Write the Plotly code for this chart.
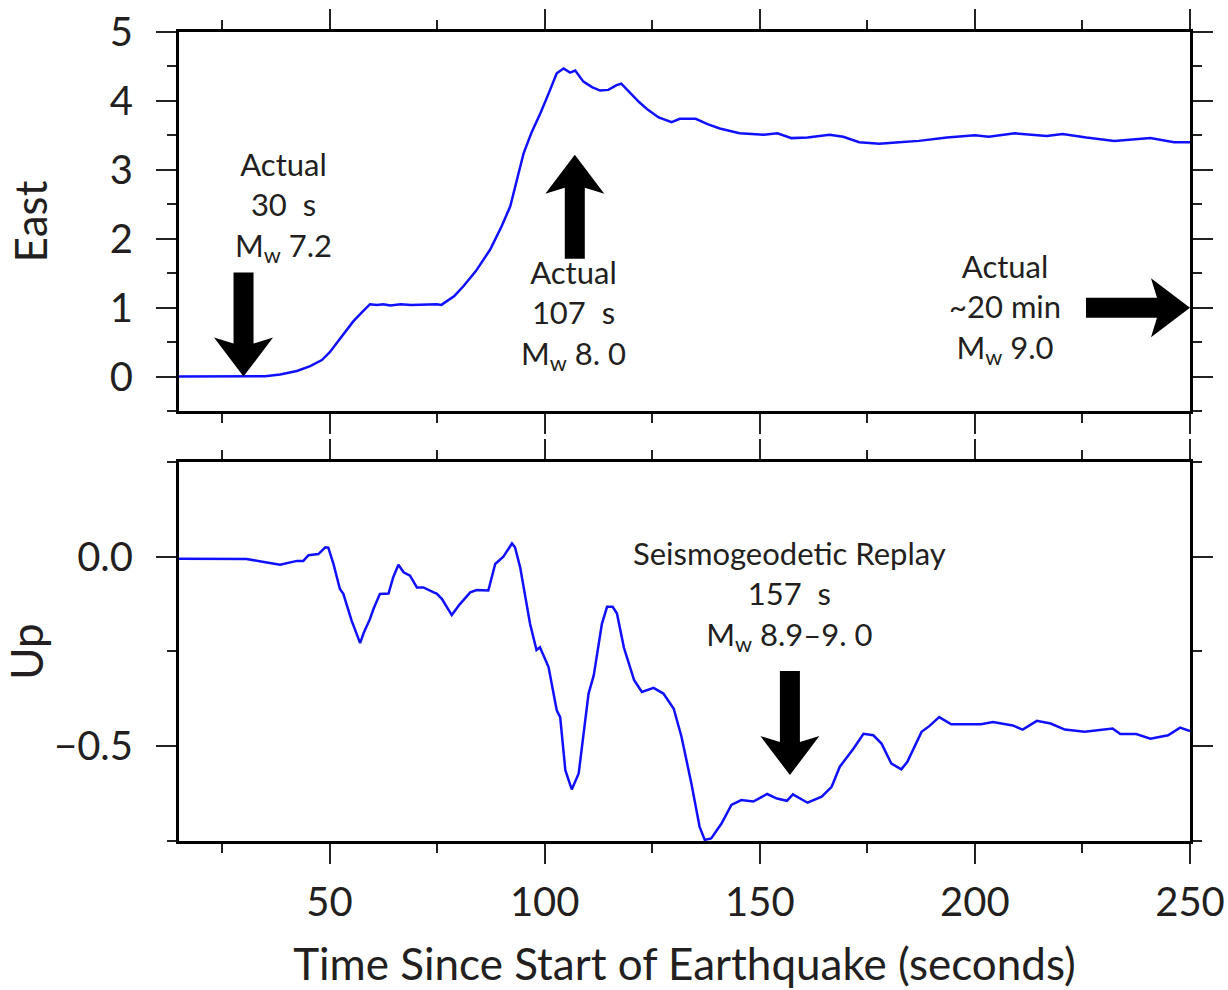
import plotly.graph_objects as go

# ---------------- data ----------------
east_t = [15, 20, 25, 30, 35, 38.5, 42.4, 45.5, 48.2, 50.0, 51.7, 53.5, 55.5, 57.5, 59.4,
          61.0, 62.5, 64.1, 66.5, 69.0, 72.0, 74.9, 76.0, 77.2, 79.0, 81.1, 84.0, 87.3,
          90.0, 92.0, 93.5, 95.1, 97.0, 99.0, 101.0, 102.8, 104.4, 105.3, 105.9, 107.1,
          108.0, 109.0, 111.0, 112.9, 114.8, 116.7, 117.8, 120.3, 122.0, 124.0, 126.5,
          129.5, 131.4, 135.1, 138.0, 140.7, 145.3, 150.9, 154.1, 157.4, 161.1, 166.2,
          169.4, 173.1, 177.8, 182.4, 187.0, 193.5, 200.0, 203.2, 209.3, 216.7, 220.4,
          225.9, 232.4, 240.8, 246.3, 250.0]
east_v = [0, 0, 0, 0, 0.005, 0.03, 0.08, 0.15, 0.24, 0.35, 0.49, 0.64, 0.80, 0.93, 1.05,
          1.04, 1.05, 1.03, 1.05, 1.04, 1.05, 1.05, 1.04, 1.09, 1.17, 1.31, 1.53, 1.84,
          2.18, 2.47, 2.85, 3.24, 3.55, 3.82, 4.12, 4.40, 4.47, 4.43, 4.41, 4.44,
          4.36, 4.28, 4.20, 4.15, 4.16, 4.23, 4.25, 4.09, 3.98, 3.87, 3.76,
          3.69, 3.74, 3.74, 3.66, 3.60, 3.53, 3.51, 3.53, 3.46, 3.47, 3.51,
          3.48, 3.40, 3.38, 3.40, 3.42, 3.47, 3.50, 3.48, 3.53, 3.49, 3.52,
          3.47, 3.42, 3.46, 3.40, 3.40]

up_t = [15, 25, 30.7, 35.4, 38.5, 42.4, 43.9, 45.1, 47.4, 49.0, 49.7, 50.9, 52.4, 53.2,
        55.1, 57.1, 57.9, 59.4, 60.2, 61.7, 63.7, 64.8, 66.0, 67.2, 68.7, 70.3, 71.8,
        74.2, 74.9, 76.1, 78.4, 80.3, 82.7, 84.2, 86.9, 88.5, 90.4, 92.4, 93.1, 94.3,
        96.6, 98.1, 98.9, 100.9, 102.8, 103.6, 104.8, 106.3, 107.9, 110.2, 111.4, 113.3,
        114.5, 115.8, 116.8, 118.4, 120.8, 122.6, 123.5, 125.3, 127.6, 130.0, 131.8,
        134.1, 136.0, 137.2, 138.7, 141.1, 143.4, 145.7, 148.5, 151.7, 154.0, 156.3,
        157.7, 158.6, 161.1, 164.4, 166.7, 168.6, 171.8, 174.1, 176.4, 178.3, 180.6,
        182.9, 184.3, 187.6, 189.4, 191.7, 194.5, 201.4, 204.2, 208.8, 211.1, 214.4,
        217.6, 220.9, 225.5, 232.0, 233.8, 237.5, 240.8, 244.9, 247.7, 250.0]
up_v = [-0.005, -0.005, -0.006, -0.015, -0.021, -0.011, -0.011, 0.004, 0.007, 0.025, 0.024,
        -0.019, -0.085, -0.098, -0.168, -0.228, -0.202, -0.164, -0.138, -0.098, -0.097,
        -0.054, -0.021, -0.041, -0.050, -0.081, -0.081, -0.094, -0.097, -0.111, -0.154,
        -0.125, -0.094, -0.088, -0.089, -0.019, 0.0, 0.035, 0.025, -0.028, -0.177, -0.246,
        -0.239, -0.291, -0.405, -0.423, -0.563, -0.614, -0.572, -0.361, -0.313, -0.177,
        -0.132, -0.132, -0.150, -0.239, -0.326, -0.357, -0.353, -0.346, -0.361, -0.401,
        -0.475, -0.598, -0.712, -0.747, -0.743, -0.704, -0.655, -0.642, -0.646, -0.626,
        -0.638, -0.644, -0.627, -0.633, -0.649, -0.633, -0.607, -0.554, -0.506, -0.467,
        -0.471, -0.493, -0.546, -0.561, -0.541, -0.462, -0.447, -0.423, -0.442, -0.442,
        -0.436, -0.445, -0.456, -0.433, -0.440, -0.456, -0.462, -0.453, -0.468, -0.468,
        -0.480, -0.471, -0.451, -0.460]

# annotation arrows
arrow_time = [30, 107, 250, 157]
arrow_value = [0.0, 3.22, 1.0, -0.576]
arrow_panel = ["y", "y", "y", "y2"]
arrow_dir = ["down", "up", "right", "down"]

# annotation text blocks
label_x = [39.4, 106.6, 207.0, 157.0]
label_y = [2.47, 0.90, 0.99, -0.103]
label_text = ["Actual<br>30\u00a0 s<br>M<sub>w</sub> 7.2",
              "Actual<br>107\u00a0 s<br>M<sub>w</sub> 8. 0",
              "Actual<br>~20 min<br>M<sub>w</sub> 9.0",
              "Seismogeodetic Replay<br>157\u00a0 s<br>M<sub>w</sub> 8.9\u20139. 0"]
label_panel = ["y", "y", "y", "y2"]

FONT = "Lato"
TXT = "#231f20"
BLUE = "#1010ff"
TICKC = "#222"

fig = go.Figure()
fig.add_trace(go.Scatter(x=east_t, y=east_v, mode="lines", xaxis="x", yaxis="y",
                         line=dict(color=BLUE, width=2.5), showlegend=False))
fig.add_trace(go.Scatter(x=up_t, y=up_v, mode="lines", xaxis="x2", yaxis="y2",
                         line=dict(color=BLUE, width=2.5), showlegend=False))

axis_common = dict(showline=True, linewidth=3, linecolor="black", mirror="allticks",
                   ticks="outside", ticklen=20, tickwidth=1.5, tickcolor=TICKC,
                   showgrid=False, zeroline=False, automargin=False,
                   tickfont=dict(family=FONT, size=40, color=TXT))


def minor(d):
    return dict(ticks="outside", ticklen=9, tickwidth=1.5, tickcolor=TICKC, dtick=d)


fig.update_layout(
    width=1228, height=990,
    paper_bgcolor="white", plot_bgcolor="white",
    margin=dict(l=179, r=38, t=32, b=149),
    xaxis=dict(axis_common, domain=[0, 1], anchor="y", range=[15, 250], tick0=0, dtick=50,
               showticklabels=False, minor=minor(25)),
    yaxis=dict(axis_common, domain=[0.5315, 1], anchor="x", range=[-0.5, 5], tick0=0, dtick=1,
               minor=minor(0.5), ticklabelstandoff=15,
               title=dict(text="East", font=dict(family=FONT, size=44, color=TXT), standoff=49)),
    xaxis2=dict(axis_common, domain=[0, 1], anchor="y2", range=[15, 250], tick0=0, dtick=50,
                matches="x", minor=minor(25), ticklabelstandoff=4,
                title=dict(text="Time Since Start of Earthquake (seconds)",
                           font=dict(family=FONT, size=44, color=TXT), standoff=26)),
    yaxis2=dict(axis_common, domain=[0, 0.4685], anchor="x2", range=[-0.75, 0.25], tick0=0,
                dtick=0.5, tickformat=".1f", minor=minor(0.25), ticklabelstandoff=15,
                title=dict(text="Up", font=dict(family=FONT, size=44, color=TXT), standoff=0)),
)

# arrow geometry in pixels (tip at origin)
HEAD_LEN, HEAD_HALF, SHAFT_HALF, TOTAL, NOTCH = 39, 29.5, 10, 104, 6


def arrow_path(direction):
    base = [(0, 0), (-HEAD_HALF, HEAD_LEN), (-SHAFT_HALF, HEAD_LEN - NOTCH),
            (-SHAFT_HALF, TOTAL), (SHAFT_HALF, TOTAL), (SHAFT_HALF, HEAD_LEN - NOTCH),
            (HEAD_HALF, HEAD_LEN)]  # pointing down, body upward (+y up)
    if direction == "down":
        pts = base
    elif direction == "up":
        pts = [(x, -y) for x, y in base]
    else:  # right
        pts = [(-y, x) for x, y in base]
    return "M " + " L ".join(f"{x},{y}" for x, y in pts) + " Z"


shapes = []
for t, v, p, d in zip(arrow_time, arrow_value, arrow_panel, arrow_dir):
    shapes.append(dict(type="path", xref="x" if p == "y" else "x2", yref=p,
                       xsizemode="pixel", ysizemode="pixel", xanchor=t, yanchor=v,
                       path=arrow_path(d), fillcolor="black", line=dict(width=0),
                       layer="above"))
fig.update_layout(shapes=shapes)

for x, y, txt, p in zip(label_x, label_y, label_text, label_panel):
    fig.add_annotation(x=x, y=y, xref="x" if p == "y" else "x2", yref=p, text=txt,
                       showarrow=False, xanchor="center", yanchor="middle", align="center",
                       font=dict(family=FONT, size=31, color=TXT))

fig.write_html("out.html", config={"displayModeBar": False},
               post_script="document.body.style.margin='0';document.body.style.padding='0';")
